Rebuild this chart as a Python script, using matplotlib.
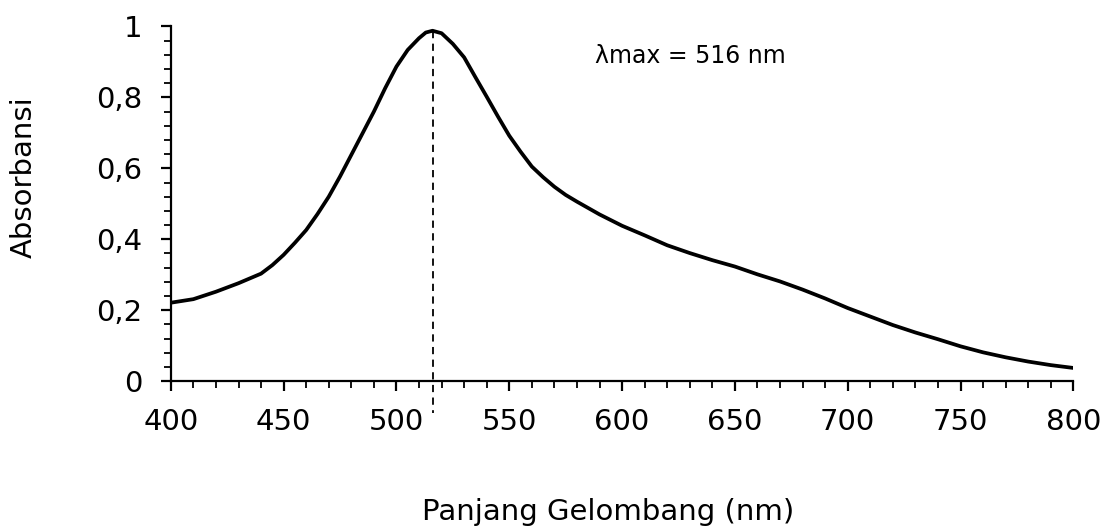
import matplotlib
matplotlib.use('Agg')
import matplotlib.pyplot as plt
from matplotlib.ticker import MultipleLocator, FuncFormatter

# absorbance spectrum
wavelength = [400, 410, 420, 430, 440, 445, 450, 455, 460, 465, 470, 475, 480, 485,
              490, 495, 500, 505, 510, 513, 516, 520, 525, 530, 535, 540, 545, 550,
              555, 560, 565, 570, 575, 580, 590, 600, 610, 620, 630, 640, 650, 660,
              670, 680, 690, 700, 710, 720, 730, 740, 750, 760, 770, 780, 790, 800]
absorbance = [0.221, 0.231, 0.252, 0.276, 0.303, 0.327, 0.356, 0.390, 0.426, 0.471,
              0.520, 0.577, 0.638, 0.699, 0.760, 0.826, 0.887, 0.934, 0.967, 0.983,
              0.988, 0.981, 0.951, 0.913, 0.857, 0.802, 0.746, 0.692, 0.647, 0.605,
              0.575, 0.548, 0.525, 0.506, 0.470, 0.438, 0.411, 0.383, 0.361, 0.341,
              0.323, 0.301, 0.281, 0.258, 0.233, 0.206, 0.182, 0.158, 0.137, 0.118,
              0.098, 0.081, 0.067, 0.055, 0.045, 0.037]
lambda_max = 516
peak_value = 0.988

plt.rcParams['font.family'] = ['DejaVu Sans']

fig = plt.figure(figsize=(11.02, 5.30), dpi=100)
ax = fig.add_axes([0.155, 0.281, 0.819, 0.669])

ax.plot(wavelength, absorbance, color='black', linewidth=2.7,
        solid_capstyle='round', solid_joinstyle='round')
# dashed marker of the peak, running a little below the x axis
ax.plot([lambda_max, lambda_max], [peak_value, -0.09], color='black', linewidth=1.3,
        linestyle=(0, (4, 3)), clip_on=False)

ax.set_xlim(400, 800)
ax.set_ylim(0, 1)
ax.xaxis.set_major_locator(MultipleLocator(50))
ax.xaxis.set_minor_locator(MultipleLocator(10))
ax.yaxis.set_major_locator(MultipleLocator(0.2))
ax.yaxis.set_minor_locator(MultipleLocator(0.04))
ax.yaxis.set_major_formatter(FuncFormatter(lambda v, p: ('%g' % round(v, 2)).replace('.', ',')))

for s in ['top', 'right']:
    ax.spines[s].set_visible(False)
for s in ['left', 'bottom']:
    ax.spines[s].set_linewidth(1.6)

ax.tick_params(which='major', direction='out', length=7.5, width=1.6, labelsize=21)
ax.tick_params(axis='x', which='major', pad=12)
ax.tick_params(axis='y', which='major', pad=13)
ax.tick_params(which='minor', direction='out', length=5, width=1.3)

fig.text(0.552, 0.034, 'Panjang Gelombang (nm)', fontsize=21, ha='center', va='center')
fig.text(0.022, 0.665, 'Absorbansi', fontsize=21, ha='center', va='center', rotation=90)

ax.text(588, 0.917, 'λmax = 516 nm', fontsize=17, va='center', ha='left')

fig.savefig('out.png', dpi=100)
